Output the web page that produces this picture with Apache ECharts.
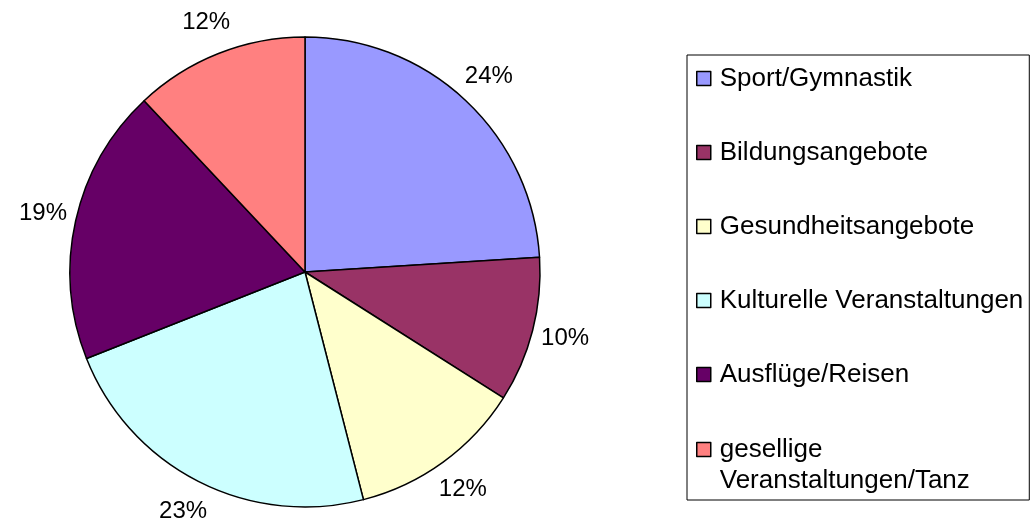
<!DOCTYPE html>
<html>
<head>
<meta charset="utf-8">
<script src="https://cdn.jsdelivr.net/npm/echarts@6/dist/echarts.min.js"></script>
<style>
html,body{margin:0;padding:0;background:#fff;}
#chart{width:1036px;height:519px;}
</style>
</head>
<body>
<div id="chart"></div>
<script>
const categories = ['Sport/Gymnastik', 'Bildungsangebote', 'Gesundheitsangebote', 'Kulturelle Veranstaltungen', 'Ausflüge/Reisen', 'gesellige\nVeranstaltungen/Tanz'];
const values = [24, 10, 12, 23, 19, 12];
const colors = ['#9999FF', '#993366', '#FFFFCC', '#CCFFFF', '#660066', '#FF8080'];

const FONT = '"Liberation Sans", Arial, sans-serif';
const chart = echarts.init(document.getElementById('chart'));

const mainData = categories.map((c, i) => ({ name: c, value: values[i], itemStyle: { color: colors[i] } }));
const labelData = categories.map((c, i) => ({ name: c, value: values[i] }));

const singleLine = categories.filter((c) => c.indexOf('\n') < 0);
const multiLine = categories.filter((c) => c.indexOf('\n') >= 0);

const legendCommon = {
  orient: 'vertical',
  icon: 'rect',
  itemWidth: 14,
  itemHeight: 14,
  itemGap: 43,
  selectedMode: false,
  itemStyle: { borderColor: '#000', borderWidth: 1.5 },
  textStyle: { fontFamily: FONT, fontSize: 26, color: '#000', lineHeight: 31, padding: [0, 0, 0, 4] }
};

chart.setOption({
  animation: false,
  backgroundColor: '#ffffff',
  legend: [
    Object.assign({}, legendCommon, {
      left: 687,
      top: 55,
      data: singleLine,
      padding: [8, 6, 110, 9],
      borderColor: '#000',
      borderWidth: 1
    }),
    Object.assign({}, legendCommon, {
      left: 696,
      top: 403,
      padding: 0,
      data: multiLine,
      // blank first line keeps the first text line level with the swatch
      formatter: (name) => '\n' + name
    })
  ],
  series: [
    {
      type: 'pie',
      center: [305, 272],
      radius: [0, 235],
      startAngle: 90,
      clockwise: true,
      data: mainData,
      label: { show: false },
      labelLine: { show: false },
      itemStyle: { borderColor: '#000', borderWidth: 1.5 },
      emphasis: { disabled: true }
    },
    {
      type: 'pie',
      center: [305, 272],
      radius: [235, 296],
      startAngle: 90,
      clockwise: true,
      silent: true,
      data: labelData,
      itemStyle: { color: 'rgba(0,0,0,0)', borderWidth: 0 },
      label: {
        show: true,
        position: 'inside',
        formatter: (p) => p.value + '%',
        fontFamily: FONT,
        fontSize: 24,
        color: '#000'
      },
      labelLine: { show: false },
      emphasis: { disabled: true }
    }
  ]
});
</script>
</body>
</html>
